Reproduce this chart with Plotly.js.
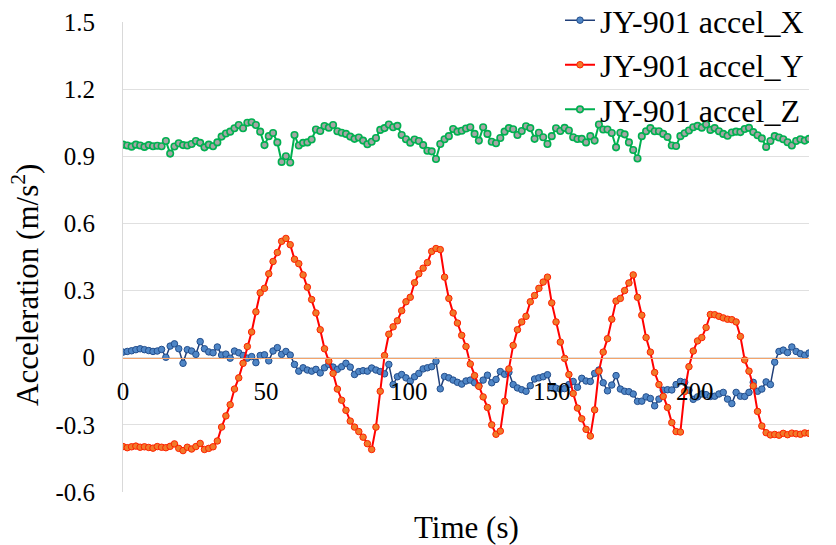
<!DOCTYPE html>
<html>
<head>
<meta charset="utf-8">
<script src="https://cdn.plot.ly/plotly-3.0.1.min.js"></script>
<style>
  html, body { margin: 0; padding: 0; background: #fff; }
  #chart { width: 836px; height: 545px; outline: 1px solid #d9d9d9; outline-offset: -1px; }
</style>
</head>
<body>
<div id="chart"></div>
<script>
// sample times (s), one row = 15 s
const timeS = [
  0,1.5,3,4.5,6,7.5,9,10.5,12,13.5,
  15,16.5,18,19.5,21,22.5,24,25.5,27,28.5,
  30,31.5,33,34.5,36,37.5,39,40.5,42,43.5,
  45,46.5,48,49.5,51,52.5,54,55.5,57,58.5,
  60,61.5,63,64.5,66,67.5,69,70.5,72,73.5,
  75,76.5,78,79.5,81,82.5,84,85.5,87,88.5,
  90,91.5,93,94.5,96,97.5,99,100.5,102,103.5,
  105,106.5,108,109.5,111,112.5,114,115.5,117,118.5,
  120,121.5,123,124.5,126,127.5,129,130.5,132,133.5,
  135,136.5,138,139.5,141,142.5,144,145.5,147,148.5,
  150,151.5,153,154.5,156,157.5,159,160.5,162,163.5,
  165,166.5,168,169.5,171,172.5,174,175.5,177,178.5,
  180,181.5,183,184.5,186,187.5,189,190.5,192,193.5,
  195,196.5,198,199.5,201,202.5,204,205.5,207,208.5,
  210,211.5,213,214.5,216,217.5,219,220.5,222,223.5,
  225,226.5,228,229.5,231,232.5,234,235.5,237,238.5,
  240
];

const accelX = [
  0.025,0.028,0.031,0.036,0.040,0.036,0.032,0.028,0.030,0.037,
  0.002,0.052,0.062,0.040,-0.025,0.036,0.030,0.015,0.072,0.040,
  0.026,0.022,0.048,0.012,0.016,-0.002,0.030,0.022,0.010,-0.002,
  0.005,-0.022,0.010,0.013,-0.014,0.030,0.045,0.015,0.028,0.012,
  -0.030,-0.060,-0.045,-0.055,-0.060,-0.052,-0.068,-0.045,-0.030,-0.042,
  -0.052,-0.040,-0.025,-0.042,-0.075,-0.062,-0.058,-0.060,-0.046,-0.055,
  -0.062,-0.072,-0.030,-0.120,-0.085,-0.075,-0.090,-0.105,-0.085,-0.070,
  -0.050,-0.045,-0.040,-0.016,-0.139,-0.084,-0.090,-0.100,-0.110,-0.118,
  -0.104,-0.100,-0.112,-0.126,-0.100,-0.078,-0.112,-0.097,-0.062,-0.074,
  -0.065,-0.120,-0.135,-0.143,-0.150,-0.125,-0.095,-0.090,-0.085,-0.076,
  -0.135,-0.136,-0.140,-0.138,-0.120,-0.106,-0.132,-0.092,-0.104,-0.106,
  -0.070,-0.055,-0.112,-0.148,-0.122,-0.080,-0.140,-0.150,-0.152,-0.162,
  -0.195,-0.194,-0.175,-0.182,-0.215,-0.185,-0.145,-0.143,-0.144,-0.120,
  -0.106,-0.110,-0.145,-0.186,-0.175,-0.162,-0.165,-0.173,-0.172,-0.162,
  -0.155,-0.185,-0.205,-0.155,-0.172,-0.173,-0.155,-0.110,-0.150,-0.140,
  -0.108,-0.120,-0.020,0.028,0.034,0.023,0.048,0.028,0.018,0.011,
  0.021
];

const accelY = [
  -0.397,-0.402,-0.398,-0.395,-0.400,-0.398,-0.401,-0.404,-0.397,-0.400,
  -0.402,-0.396,-0.385,-0.405,-0.415,-0.400,-0.408,-0.397,-0.383,-0.410,
  -0.405,-0.398,-0.372,-0.310,-0.260,-0.210,-0.140,-0.090,-0.025,0.050,
  0.115,0.205,0.290,0.310,0.375,0.430,0.470,0.520,0.533,0.505,
  0.440,0.420,0.370,0.315,0.260,0.200,0.125,0.040,-0.015,-0.070,
  -0.140,-0.190,-0.235,-0.283,-0.310,-0.330,-0.355,-0.384,-0.410,-0.310,
  -0.150,0.010,0.105,0.138,0.165,0.210,0.250,0.270,0.335,0.375,
  0.400,0.425,0.475,0.488,0.483,0.360,0.265,0.200,0.155,0.100,
  0.050,-0.028,-0.080,-0.128,-0.175,-0.222,-0.300,-0.342,-0.328,-0.195,
  -0.050,0.055,0.125,0.160,0.185,0.250,0.278,0.310,0.338,0.360,
  0.245,0.160,0.070,-0.003,-0.075,-0.160,-0.225,-0.273,-0.320,-0.350,
  -0.233,-0.060,0.025,0.085,0.172,0.253,0.265,0.300,0.334,0.370,
  0.270,0.190,0.090,0.025,-0.066,-0.120,-0.173,-0.222,-0.290,-0.330,
  -0.332,-0.151,-0.040,0.030,0.075,0.090,0.135,0.193,0.192,0.185,
  0.178,0.172,0.170,0.160,0.095,-0.010,-0.060,-0.126,-0.240,-0.305,
  -0.335,-0.345,-0.343,-0.346,-0.338,-0.344,-0.337,-0.340,-0.342,-0.336,
  -0.338
];

const accelZ = [
  0.952,0.948,0.943,0.952,0.948,0.942,0.950,0.945,0.947,0.945,
  0.968,0.912,0.944,0.958,0.950,0.948,0.955,0.968,0.960,0.940,
  0.952,0.945,0.962,0.988,1.002,1.010,1.025,1.040,1.025,1.050,
  1.052,1.040,1.010,0.950,0.990,1.004,0.962,0.875,0.900,0.872,
  0.995,0.948,0.960,0.962,0.975,1.020,1.013,1.035,1.028,1.040,
  1.012,1.005,1.000,0.988,0.978,0.984,0.970,0.954,0.965,0.982,
  1.018,1.026,1.042,1.030,1.036,0.995,0.976,0.961,0.975,0.968,
  0.950,0.925,0.922,0.888,0.955,0.976,0.990,1.022,1.010,1.014,
  1.024,1.030,1.000,0.970,1.030,1.000,0.965,0.958,0.982,1.010,
  1.026,1.021,0.995,1.013,1.034,1.026,0.978,1.005,0.985,0.955,
  0.990,1.025,1.013,1.027,1.015,0.985,0.977,0.978,0.962,0.990,
  0.970,1.042,1.020,1.020,1.004,0.940,1.005,0.998,0.962,0.928,
  0.890,0.990,1.012,1.026,1.012,1.012,1.000,0.986,0.948,0.946,
  0.990,1.003,1.015,1.030,1.036,1.028,1.042,1.018,1.026,1.012,
  1.000,0.992,1.006,1.010,1.008,1.022,1.027,1.008,0.994,0.980,
  0.942,0.968,0.990,0.984,0.976,0.963,0.948,0.968,0.976,0.970,
  0.978
];

const seriesNames = ["JY-901 accel_X", "JY-901 accel_Y", "JY-901 accel_Z"];
const xTickVals = [0, 50, 100, 150, 200];
const xTickText = ["0", "50", "100", "150", "200"];
const yTickVals = [-0.6, -0.3, 0, 0.3, 0.6, 0.9, 1.2, 1.5];
const yTickText = ["-0.6", "-0.3", "0", "0.3", "0.6", "0.9", "1.2", "1.5"];

const SERIF = "Liberation Serif";

const traces = [
  {x: timeS, y: accelX, name: seriesNames[0], type: "scatter", mode: "lines+markers",
   line: {color: "#203f78", width: 1.5},
   marker: {size: 6.5, color: "#4f86c6", line: {color: "#234e8c", width: 1}}},
  {x: timeS, y: accelY, name: seriesNames[1], type: "scatter", mode: "lines+markers",
   line: {color: "#ff0000", width: 2},
   marker: {size: 6.5, color: "#f07a2a", line: {color: "#ff2000", width: 1}}},
  {x: timeS, y: accelZ, name: seriesNames[2], type: "scatter", mode: "lines+markers",
   line: {color: "#00b050", width: 2},
   marker: {size: 6.5, color: "#a5a5a5", line: {color: "#00b050", width: 1.6}}}
];

const layout = {
  width: 836, height: 545,
  margin: {l: 123, r: 27, t: 22, b: 53, autoexpand: false},
  paper_bgcolor: "#fff", plot_bgcolor: "#fff",
  font: {family: SERIF, color: "#000", size: 25},
  showlegend: true,
  legend: {x: 1.0, xanchor: "right", y: 1.062, yanchor: "top",
           bgcolor: "rgba(0,0,0,0)", font: {family: SERIF, size: 32, color: "#000"},
           itemwidth: 30, tracegroupgap: 0},
  xaxis: {range: [0, 240], anchor: "free", position: 0.6 / 2.1,
          showline: true, linecolor: "#f4a46b", linewidth: 1.2,
          showgrid: false, zeroline: false, ticks: "",
          tickmode: "array", tickvals: xTickVals, ticktext: xTickText,
          ticklabelstandoff: 11, tickfont: {family: SERIF, size: 25, color: "#000"}},
  yaxis: {range: [-0.6, 1.5], showline: true, linecolor: "#d9d9d9", linewidth: 1,
          showgrid: true, gridcolor: "#e0e0e0", gridwidth: 1, zeroline: false, ticks: "",
          tickmode: "array", tickvals: yTickVals, ticktext: yTickText,
          ticklabelstandoff: 22, tickfont: {family: SERIF, size: 25, color: "#000"}},
  annotations: [
    {text: "Time (s)", xref: "paper", yref: "paper", x: 0.5, y: -0.0745,
     xanchor: "center", yanchor: "middle", showarrow: false,
     font: {family: SERIF, size: 31, color: "#000"}},
    {text: "Acceleration (m/s<sup>2</sup>)", xref: "paper", yref: "paper",
     x: -0.1429, y: 0.4404, xanchor: "center", yanchor: "middle", textangle: -90,
     showarrow: false, font: {family: SERIF, size: 31, color: "#000"}}
  ]
};

Plotly.newPlot("chart", traces, layout, {staticPlot: true, displayModeBar: false});
</script>
</body>
</html>
